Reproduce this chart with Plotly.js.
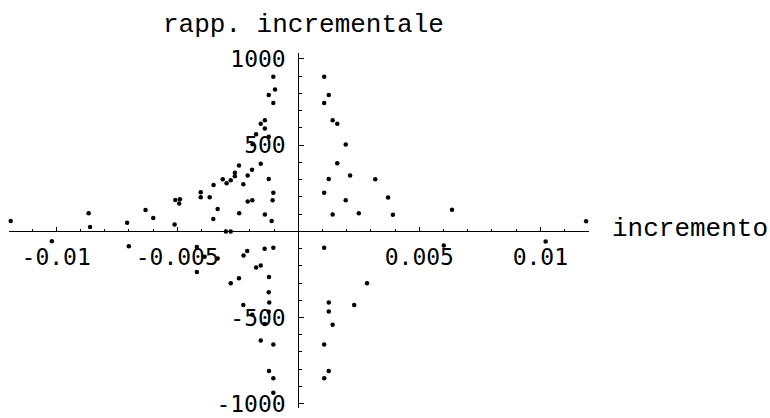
<!DOCTYPE html>
<html>
<head>
<meta charset="utf-8">
<script src="https://cdn.plot.ly/plotly-3.0.1.min.js"></script>
<style>html,body{margin:0;padding:0;background:#fff;}#chart{width:770px;height:418px;}</style>
</head>
<body>
<div id="chart"></div>
<script>
// incremento (x) and rapporto incrementale (y)
const incremento = [
  -0.01188, -0.00866, -0.00860, -0.00707, -0.00631, -0.00599, -0.00511, -0.00508, -0.00489, -0.00492,
  -0.00403, -0.00403, -0.00366, -0.00333, -0.00351, -0.00350, -0.00312, -0.00296, -0.00279, -0.00262,
  -0.00262, -0.00245, -0.00227, -0.00209, -0.00191, -0.00209, -0.00190, -0.00244, -0.00299, -0.00279,
  -0.00155, -0.00174, -0.00155, -0.00138, -0.00138, -0.00122, -0.00189, -0.00122, -0.00096, -0.00103,
  -0.00103, -0.00122, -0.00103, -0.00106, -0.00138, -0.00110,
  0.00107, 0.00126, 0.00107, 0.00142, 0.00161, 0.00196, 0.00161, 0.00214, 0.00126, 0.00318,
  0.00107, 0.00196, 0.00371, 0.00142, 0.00250, 0.00391, 0.00635, 0.01189,
  -0.01018, -0.00700, -0.00419, -0.00387, -0.00333, -0.00419, -0.00279, -0.00245, -0.00227, -0.00226,
  -0.00211, -0.00174, -0.00155, -0.00139, -0.00103, -0.00121, -0.00122, -0.00120, -0.00122, -0.00138,
  -0.00190, -0.00155, -0.00103, -0.00121, -0.00103, -0.00103,
  0.00107, 0.00601, 0.01022, 0.00284, 0.00231, 0.00126, 0.00126, 0.00142, 0.00107, 0.00126, 0.00107
];
const rapporto = [
  59, 105, 25, 50, 123, 77, 40, 182, 186, 161,
  227, 198, 198, 129, 71, 269, 302, 279, 296, 340,
  319, 382, 273, 323, 357, 173, 180, 104, -2, -2,
  392, 563, 623, 644, 596, 548, 505, 790, 822, 896,
  744, 303, 223, 180, 98, 59,
  896, 790, 744, 644, 623, 503, 394, 323, 303, 302,
  223, 180, 196, 98, 104, 96, 125, 58,
  -58, -87, -91, -148, -158, -236, -302, -273, -427, -141,
  -114, -210, -198, -102, -96, -265, -354, -413, -467, -538,
  -484, -634, -656, -810, -852, -936,
  -96, -83, -60, -302, -427, -413, -465, -542, -656, -810, -852
];
const xTickVals = [-0.01, -0.005, 0.005, 0.01];
const xTickText = ['-0.01', '-0.005', '0.005', '0.01'];
const yTickVals = [-1000, -500, 500, 1000];
const yTickText = ['-1000', '-500', '500', '1000'];
const xTitle = 'incremento';
const yTitle = 'rapp. incrementale';

const xRange = [-0.01195, 0.01201];
const yRange = [-1025, 1034];
const tickFont = {family: 'DejaVu Sans Mono, monospace', size: 23, color: '#000'};
const titleFont = {family: 'Liberation Mono, Courier New, monospace', size: 26, color: '#000'};

const trace = {
  type: 'scatter', mode: 'markers', x: incremento, y: rapporto,
  marker: {size: 4.5, color: '#000'}, hoverinfo: 'none', cliponaxis: false
};

const mT = 53, mB = 10, plotH = 418 - mT - mB;

const layout = {
  width: 770, height: 418,
  margin: {l: 9, r: 181, t: mT, b: mB, pad: 0},
  paper_bgcolor: '#fff', plot_bgcolor: '#fff',
  showlegend: false,
  xaxis: {
    range: xRange, anchor: 'free', position: (0 - yRange[0]) / (yRange[1] - yRange[0]),
    showline: true, linecolor: '#000', linewidth: 1, showgrid: false, zeroline: false,
    ticks: 'inside', ticklen: 4, tickwidth: 1, tickcolor: '#000',
    tickmode: 'array', tickvals: xTickVals, ticktext: xTickText, tickfont: tickFont,
    ticklabelstandoff: 5, ticklabeloverflow: 'allow',
    minor: {tickmode: 'linear', tick0: 0, dtick: 0.001, ticks: 'inside', ticklen: 2.5, tickwidth: 1, tickcolor: '#000', showgrid: false}
  },
  yaxis: {
    range: yRange, anchor: 'free', position: (0 - xRange[0]) / (xRange[1] - xRange[0]),
    showline: true, linecolor: '#000', linewidth: 1, showgrid: false, zeroline: false,
    ticks: 'inside', ticklen: 4.5, tickwidth: 1, tickcolor: '#000',
    tickmode: 'array', tickvals: yTickVals, ticktext: yTickText, tickfont: tickFont,
    ticklabelstandoff: 8, ticklabeloverflow: 'allow',
    minor: {tickmode: 'linear', tick0: 0, dtick: 100, ticks: 'inside', ticklen: 2.5, tickwidth: 1, tickcolor: '#000', showgrid: false}
  },
  annotations: [
    {text: yTitle, xref: 'x', yref: 'paper', x: 0.0002, y: 1 + (mT - 25) / plotH, xanchor: 'center', yanchor: 'middle', showarrow: false, font: titleFont},
    {text: xTitle, xref: 'paper', yref: 'y', x: 1 + 21 / 580, y: 12, xanchor: 'left', yanchor: 'middle', showarrow: false, font: titleFont}
  ]
};

Plotly.newPlot('chart', [trace], layout, {staticPlot: true, displayModeBar: false});
</script>
</body>
</html>
